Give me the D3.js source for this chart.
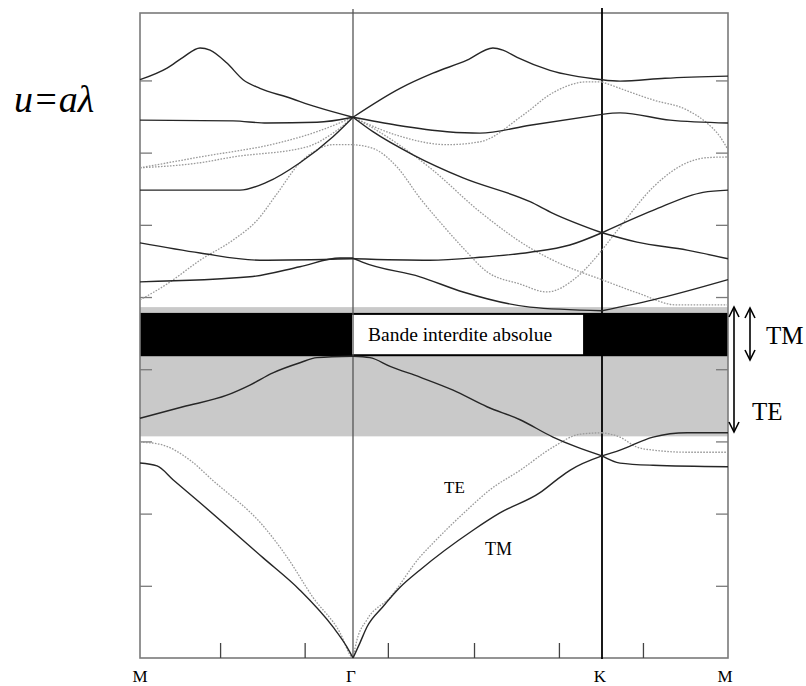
<!DOCTYPE html>
<html>
<head>
<meta charset="utf-8">
<script src="https://cdn.jsdelivr.net/npm/d3@7"></script>
<style>
  html, body { margin: 0; padding: 0; background: #fff; }
  svg { display: block; }
</style>
</head>
<body>
<svg id="chart" width="806" height="686"></svg>
<script>
// ---------- DATA ----------
// k-path position: M = 0, Γ = 1, K = 2, M = 3 ; u = reduced frequency
const pointLabels = ["M", "Γ", "K", "M"];
const pointPos = [0, 1, 2, 3];
const yTicks = [0.1, 0.2, 0.3, 0.4, 0.5, 0.6, 0.7, 0.8];
const xMinorTicks = [0.376, 0.773, 1.14, 1.486, 1.827, 2.325];

const teGap = [0.307, 0.486];
const tmGap = [0.418, 0.478];

// TM bands (solid)
const tm1 = [[0,0.270],[0.080,0.266],[0.155,0.247],[0.282,0.215],[0.577,0.139],[0.751,0.094],[0.906,0.043],[0.972,0.015],[1,0],
  [1.028,0.021],[1.056,0.043],[1.120,0.071],[1.189,0.098],[1.269,0.122],[1.482,0.177],[1.590,0.201],[1.751,0.229],[1.819,0.247],[1.871,0.260],[2,0.280],
  [2.143,0.270],[2.405,0.267],[3,0.265]];
const tm2 = [[0,0.332],[0.202,0.348],[0.408,0.364],[0.516,0.378],[0.624,0.395],[0.751,0.409],[0.831,0.416],[1,0.418],
  [1.068,0.416],[1.149,0.404],[1.269,0.389],[1.402,0.371],[1.538,0.348],[1.671,0.330],[1.803,0.306],[1.900,0.292],[2,0.280],
  [2.143,0.288],[2.405,0.306],[2.675,0.312],[3,0.312]];
const tm3 = [[0,0.521],[0.516,0.528],[0.751,0.542],[0.939,0.554],[1,0.554],
  [1.040,0.548],[1.269,0.528],[1.442,0.507],[1.711,0.486],[2,0.481],
  [2.405,0.496],[3,0.524]];
const tm4 = [[0,0.575],[0.282,0.561],[0.563,0.551],[1,0.553],
  [1.309,0.551],[1.510,0.555],[1.711,0.562],[1.871,0.572],[2,0.589],
  [2.405,0.620],[2.802,0.645],[3,0.648]];
const tm5 = [[0,0.648],[0.469,0.648],[0.596,0.659],[0.751,0.686],[0.906,0.722],[1,0.749],
  [1.080,0.729],[1.241,0.697],[1.442,0.665],[1.711,0.632],[1.803,0.616],[2,0.589],
  [2.278,0.576],[2.675,0.565],[3,0.553]];
const tm6 = [[0,0.745],[0.437,0.744],[0.596,0.741],[0.831,0.742],[1,0.749],
  [1.177,0.738],[1.378,0.729],[1.510,0.727],[1.711,0.738],[2,0.753],
  [2.143,0.755],[2.540,0.745],[3,0.741]];
const tm7 = [[0,0.801],[0.127,0.817],[0.202,0.832],[0.282,0.845],[0.329,0.842],[0.408,0.824],[0.484,0.801],[0.563,0.789],[0.690,0.777],[0.831,0.763],[1,0.749],
  [1.189,0.789],[1.321,0.810],[1.458,0.828],[1.562,0.845],[1.602,0.842],[1.659,0.832],[1.791,0.814],[2,0.801],
  [2.143,0.799],[2.5,0.803],[3,0.806]];

// TE bands (dotted)
const te1 = [[0,0.299],[0.094,0.296],[0.235,0.274],[0.338,0.247],[0.587,0.180],[0.690,0.140],[0.812,0.084],[0.939,0.035],[0.995,0.001],[1,0],
  [1.016,0.025],[1.056,0.053],[1.149,0.084],[1.269,0.140],[1.321,0.159],[1.458,0.205],[1.550,0.233],[1.671,0.260],[1.803,0.292],[1.912,0.310],[2,0.312],
  [2.143,0.306],[2.278,0.292],[2.405,0.288],[2.675,0.285],[3,0.285]];
const te2 = [[0,0.496],[0.127,0.518],[0.282,0.551],[0.437,0.579],[0.549,0.606],[0.643,0.643],[0.751,0.686],[0.831,0.704],[0.906,0.711],[1,0.711],
  [1.080,0.706],[1.177,0.680],[1.269,0.637],[1.349,0.604],[1.442,0.568],[1.538,0.535],[1.671,0.518],[1.779,0.507],[1.900,0.528],[2,0.565],
  [2.143,0.597],[2.405,0.652],[2.675,0.686],[2.833,0.693],[3,0.694]];
const te3 = [[0,0.679],[0.282,0.686],[0.437,0.694],[0.784,0.708],[0.906,0.727],[1,0.749],
  [1.080,0.734],[1.309,0.679],[1.510,0.618],[1.711,0.568],[1.803,0.551],[2,0.524],
  [2.278,0.506],[2.595,0.489],[3,0.489]];
const te4 = [[0,0.679],[0.282,0.694],[0.643,0.713],[0.831,0.729],[1,0.749],
  [1.177,0.724],[1.378,0.711],[1.510,0.715],[1.683,0.752],[1.803,0.783],[1.940,0.798],[2,0.798],
  [2.143,0.789],[2.405,0.773],[2.675,0.759],[2.833,0.741],[2.937,0.722],[3,0.704]];

const tmBands = [tm1, tm2, tm3, tm4, tm5, tm6, tm7];
const teBands = [te1, te2, te3, te4];

// ---------- LAYOUT ----------
const SERIF = "'Liberation Serif', 'DejaVu Serif', 'Times New Roman', Times, serif";
const svg = d3.select("#chart");
const L = 140, R = 728, T = 13, B = 658;
const x = d3.scaleLinear().domain(pointPos).range([L, 353, 602, R]);
const y = d3.scaleLinear().domain([0, 0.8934]).range([B, T]);

function txt(xp, yp, size, s) {
  return svg.append("text").attr("x", xp).attr("y", yp)
    .attr("font-family", SERIF).attr("font-size", size).attr("fill", "#000").text(s);
}

// gaps
svg.append("rect").attr("x", L).attr("width", R - L)
  .attr("y", y(teGap[1])).attr("height", y(teGap[0]) - y(teGap[1]))
  .attr("fill", "#c9c9c9");
svg.append("rect").attr("x", L).attr("width", R - L)
  .attr("y", y(tmGap[1])).attr("height", y(tmGap[0]) - y(tmGap[1]))
  .attr("fill", "#000");
// label box
const boxX0 = x(1) - 1, boxX1 = x(1.924);
svg.append("rect").attr("x", boxX0).attr("width", boxX1 - boxX0)
  .attr("y", y(tmGap[1]) + 2).attr("height", y(tmGap[0]) - y(tmGap[1]) - 4)
  .attr("fill", "#fff");
txt(368, 341, 19.5, "Bande interdite absolue");

// frame
const frameColor = "#7a7a7a";
svg.append("rect").attr("x", L).attr("y", T).attr("width", R - L).attr("height", B - T)
  .attr("fill", "none").attr("stroke", frameColor).attr("stroke-width", 1.6);

// y ticks (both sides, inward)
svg.append("g").attr("transform", `translate(${L},0)`)
  .call(d3.axisRight(y).tickValues(yTicks).tickSize(12).tickFormat(""))
  .call(g => g.select(".domain").remove())
  .call(g => g.selectAll("line").attr("stroke", frameColor).attr("stroke-width", 1.3));
svg.append("g").attr("transform", `translate(${R},0)`)
  .call(d3.axisLeft(y).tickValues(yTicks).tickSize(12).tickFormat(""))
  .call(g => g.select(".domain").remove())
  .call(g => g.selectAll("line").attr("stroke", frameColor).attr("stroke-width", 1.3));
// x minor ticks (inward from bottom)
svg.append("g").attr("transform", `translate(0,${B})`)
  .call(d3.axisTop(x).tickValues(xMinorTicks).tickSize(15).tickFormat(""))
  .call(g => g.select(".domain").remove())
  .call(g => g.selectAll("line").attr("stroke", "#444").attr("stroke-width", 1.3));

// symmetry point vertical lines
svg.append("line").attr("x1", x(1)).attr("x2", x(1)).attr("y1", 9).attr("y2", B)
  .attr("stroke", "#555").attr("stroke-width", 1.3);
svg.append("line").attr("x1", x(2)).attr("x2", x(2)).attr("y1", 8).attr("y2", B + 1)
  .attr("stroke", "#000").attr("stroke-width", 1.8);

// bands: draw each segment between symmetry points separately (cusps at Γ and K)
const line = d3.line().x(d => x(d[0])).y(d => y(d[1])).curve(d3.curveMonotoneX);
function segments(band) {
  const segs = [];
  for (let s = 0; s < 3; s++) {
    segs.push(band.filter(d => d[0] >= s - 1e-9 && d[0] <= s + 1 + 1e-9));
  }
  return segs;
}
const gTE = svg.append("g");
teBands.forEach(b => segments(b).forEach(seg => {
  gTE.append("path").attr("d", line(seg)).attr("fill", "none")
    .attr("stroke", "#9a9a9a").attr("stroke-width", 1.3).attr("stroke-dasharray", "1.6,1.4");
}));
const gTM = svg.append("g");
tmBands.forEach(b => segments(b).forEach(seg => {
  gTM.append("path").attr("d", line(seg)).attr("fill", "none")
    .attr("stroke", "#262626").attr("stroke-width", 1.4);
}));

// point labels
const labelDx = [0, -2, -2, -3];
pointLabels.forEach((d, i) => {
  txt(x(pointPos[i]) + labelDx[i], 682, 17, d).attr("text-anchor", "middle");
});

// inner labels
txt(444, 493, 17, "TE");
txt(485, 555, 18, "TM");

// y label
txt(14, 112, 38, "u=aλ").attr("font-style", "italic");

// gap arrows
function dblArrow(xp, y0, y1) {
  const g = svg.append("g").attr("stroke", "#000").attr("stroke-width", 1.6).attr("fill", "none");
  g.append("line").attr("x1", xp).attr("x2", xp).attr("y1", y0).attr("y2", y1);
  g.append("path").attr("d", `M${xp-5},${y0+10}L${xp},${y0}L${xp+5},${y0+10}`);
  g.append("path").attr("d", `M${xp-5},${y1-10}L${xp},${y1}L${xp+5},${y1-10}`);
}
dblArrow(750, 308, 360);
dblArrow(734, 307, 432);
txt(766, 344, 25, "TM");
txt(752, 420, 25, "TE");
</script>
</body>
</html>
